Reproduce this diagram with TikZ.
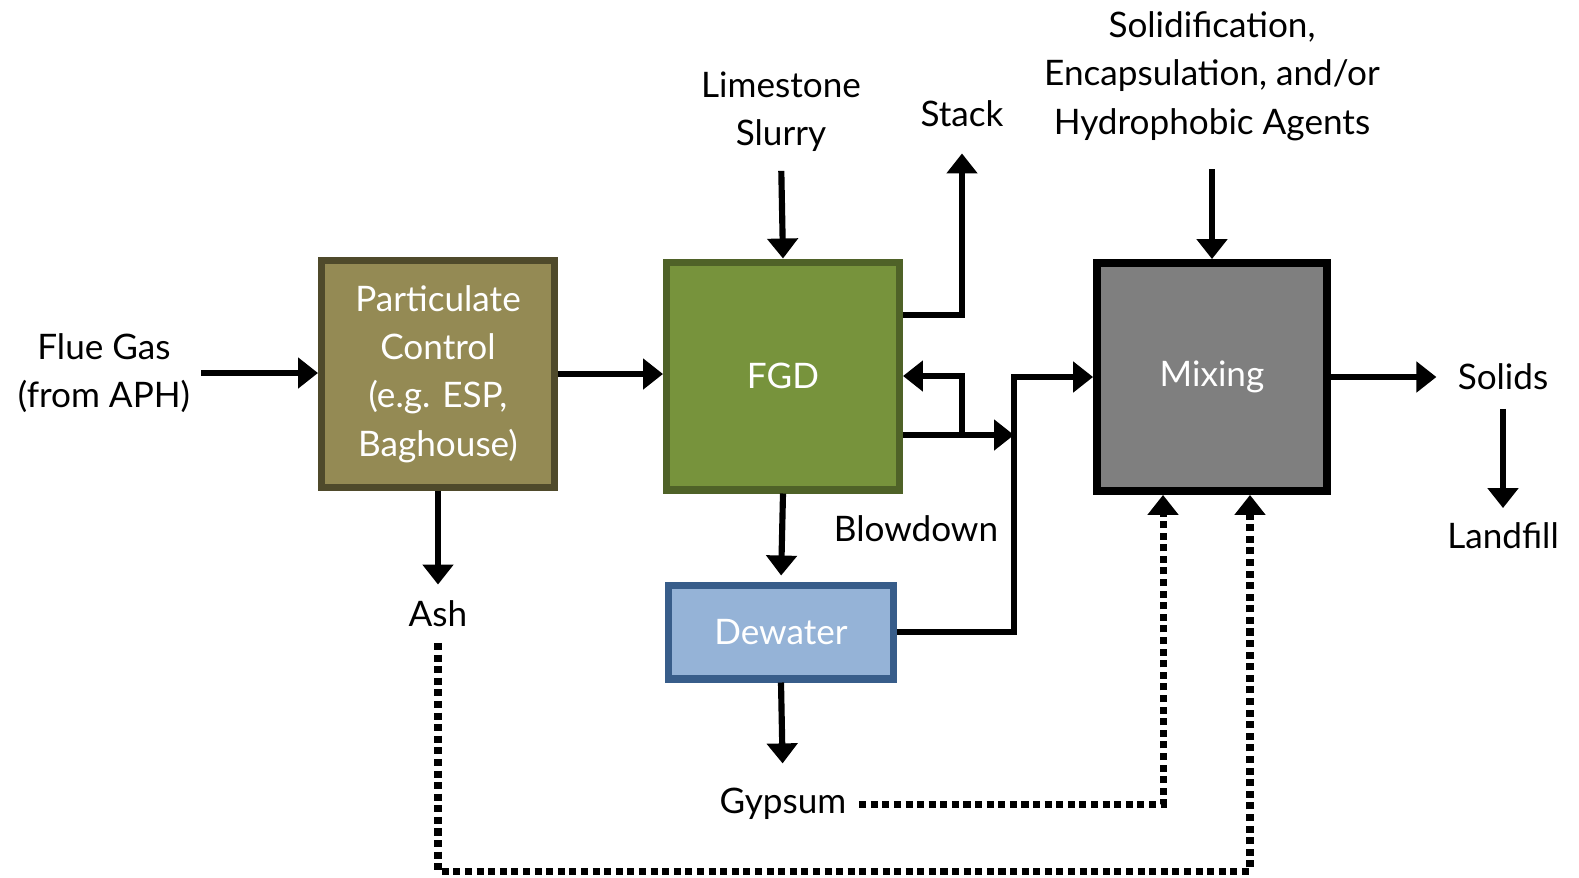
\documentclass[tikz,border=0pt]{standalone}
\usepackage{fontspec}
\setmainfont{Lato}
\usepackage{tikz}
\usetikzlibrary{arrows.meta}
\definecolor{partfill}{HTML}{948A54}
\definecolor{partline}{HTML}{4F4A2B}
\definecolor{fgdfill}{HTML}{77933C}
\definecolor{fgdline}{HTML}{4F6228}
\definecolor{mixfill}{HTML}{7F7F7F}
\definecolor{dewfill}{HTML}{95B3D7}
\definecolor{dewline}{HTML}{385D8A}

\begin{document}
\begin{tikzpicture}[x=0.02cm, y=-0.02cm,
    font=\fontsize{20}{27.5}\selectfont,
    unit/.style={draw, line width=4pt, text=white, align=center, inner sep=0pt},
    stream/.style={align=center, inner sep=2pt},
    flow/.style={line width=3.5pt, -{Triangle[width=0.6cm,length=0.4cm]}},
    recycle/.style={line width=4pt, dash pattern=on 4pt off 2.6pt,
        -{Triangle[width=0.6cm,length=0.4cm]}}]

    \useasboundingbox (0,0) rectangle (1579,877);

    % Units
    \node[unit, fill=partfill, draw=partline, minimum width=4.66cm, minimum height=4.54cm]
        (part) at (438,374) {Particulate\\Control\\(e.g. ESP,\\Baghouse)};
    \node[unit, fill=fgdfill, draw=fgdline, minimum width=4.66cm, minimum height=4.56cm]
        (fgd) at (783,376) {FGD};
    \node[unit, fill=mixfill, draw=black, line width=4.5pt, minimum width=4.6cm, minimum height=4.56cm]
        (mix) at (1212,377) {Mixing};
    \node[unit, fill=dewfill, draw=dewline, minimum width=4.5cm, minimum height=1.88cm]
        (dew) at (781,632) {Dewater};

    % Streams
    \node[stream] (flue) at (104,373) {Flue Gas\\(from APH)};
    \node[stream] (lime) at (781,112) {Limestone\\Slurry};
    \node[stream] (stack) at (962,114) {Stack};
    \node[stream] (agents) at (1212,76) {Solidification,\\Encapsulation, and/or\\Hydrophobic Agents};
    \node[stream] (solids) at (1503,377) {Solids};
    \node[stream] (landfill) at (1503,536) {Landfill};
    \node[stream] (ash) at (438,614) {Ash};
    \node[stream] (gyp) at (783,804) {Gypsum};
    \node[stream] (blow) at (916,529) {Blowdown};

    \coordinate (split) at (962,435);
    \coordinate (bus) at (1014,377);
    \coordinate (floor) at (840,871);

    % Main line
    \draw[flow, shorten <=0.15cm] (flue.east) -- (part.west |- flue.east);
    \draw[flow] (part.east) -- (fgd.west |- part.east);
    \draw[flow, shorten >=0.25cm] (part.south) -- (ash.north);
    \draw[flow, shorten <=0.3cm] (lime.south) -- (fgd.north);
    \draw[flow, shorten >=0.45cm] ([yshift=1.22cm]fgd.east) -| (stack.south);
    \draw[flow] (fgd.east |- split) -- (bus |- split);
    \draw[flow] (split) |- (fgd.east);
    \draw[flow, shorten >=0.12cm] (fgd.south) -- (dew.north);
    \draw[flow, shorten >=0.42cm] (dew.south) -- (gyp.north);
    \draw[flow] (dew.east) -| (bus) -- (mix.west);
    \draw[flow, shorten <=0.5cm] (agents.south) -- (mix.north);
    \draw[flow, shorten >=0.35cm] (mix.east) -- (solids.west);
    \draw[flow, shorten <=0.3cm, shorten >=0.22cm] (solids.south) -- (landfill.north);

    % By-products back to mixing
    \draw[recycle, shorten <=0.18cm] (gyp.east) -| ([xshift=-0.98cm]mix.south);
    \draw[recycle, shorten <=0.24cm] (ash.south) |- (floor) -| ([xshift=0.76cm]mix.south);

\end{tikzpicture}
\end{document}
